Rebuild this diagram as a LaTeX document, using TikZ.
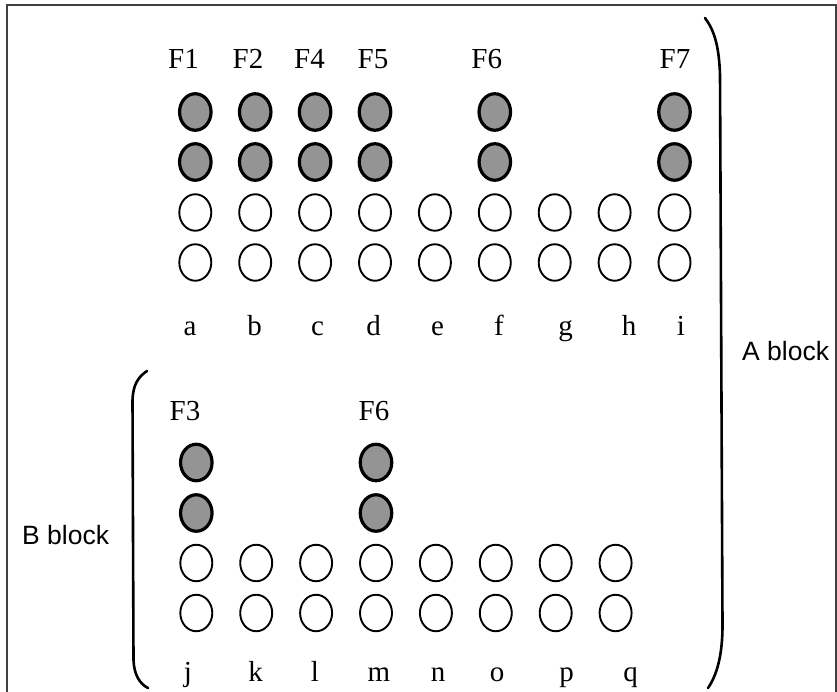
\documentclass[tikz,border=0pt]{standalone}
\usepackage{fontspec}
\setmainfont{Liberation Serif}
\newfontfamily\blockfont{Liberation Sans}
\usetikzlibrary{shapes.geometric}
\begin{document}
\begin{tikzpicture}[x=1pt,y=-1pt,
  opencirc/.style={ellipse, draw=black, line width=1.9pt, minimum width=32pt, minimum height=36.5pt, inner sep=0pt},
  fillcirc/.style={ellipse, draw=black, line width=3.2pt, fill=black!42, minimum width=31.5pt, minimum height=36.5pt, inner sep=0pt},
  lbl/.style={anchor=base, inner sep=0pt, font=\fontsize{29}{30}\selectfont},
  blk/.style={anchor=base west, inner sep=0pt, font=\blockfont\fontsize{26.5}{28}\selectfont},
  framestyle/.style={draw=black!75, line width=1.3pt},
  paren/.style={draw=black, line width=2.6pt, line cap=round}]
\useasboundingbox (0,0) rectangle (837,692);
% frame
\draw[framestyle] (7,692) -- (7,5) -- (836,5) -- (836,692);
% A block circles
\foreach \n [count=\k from 0] in {a,b,c,d,e,f,g,h,i} {
  \pgfmathsetmacro{\cx}{195.3+59.9*\k}
  \node[opencirc] (A\n3) at (\cx,212.5) {};
  \node[opencirc] (A\n4) at (\cx,262.5) {};
}
\foreach \n/\k in {a/0,b/1,c/2,d/3,f/5,i/8} {
  \pgfmathsetmacro{\cx}{195.3+59.9*\k}
  \node[fillcirc] (A\n1) at (\cx,112) {};
  \node[fillcirc] (A\n2) at (\cx,162) {};
}
% B block circles
\foreach \n [count=\k from 0] in {j,k,l,m,n,o,p,q} {
  \pgfmathsetmacro{\cx}{196.3+59.9*\k}
  \node[opencirc] (B\n3) at (\cx,563) {};
  \node[opencirc] (B\n4) at (\cx,613) {};
}
\foreach \n/\k in {j/0,m/3} {
  \pgfmathsetmacro{\cx}{196.3+59.9*\k}
  \node[fillcirc] (B\n1) at (\cx,462.5) {};
  \node[fillcirc] (B\n2) at (\cx,513) {};
}
% F labels
\foreach \t/\x in {F1/183.5,F2/248,F4/309.5,F5/373,F6/486.7,F7/675} {
  \node[lbl] (L\t) at (\x,68.3) {\t};
}
\node[lbl] (LF3) at (185,420) {F3};
\node[lbl] (LF6b) at (374,420) {F6};
% column letters
\foreach \t/\x in {a/190,b/254.7,c/317.5,d/373.7,e/437.5,f/499,g/565.7,h/629,i/681} {
  \node[lbl] (T\t) at (\x,335) {\t};
}
\foreach \t/\x in {j/188,k/255.5,l/315,m/379,n/438,o/497,p/566.5,q/630.5} {
  \node[lbl] (T\t) at (\x,681.5) {\t};
}
% brackets
\draw[paren] (705,18) .. controls (714,30) and (719,45) .. (720,75) -- (722.5,625) .. controls (722.5,655) and (717,675) .. (708,688);
\draw[paren] (147,371) .. controls (138,377) and (133,385) .. (132.5,400) -- (133.5,660) .. controls (134,675) and (140,684) .. (148,688);
% block labels
\node[blk] (Ablock) at (742,360) {A block};
\node[blk] (Bblock) at (22,544) {B block};
\end{tikzpicture}
\end{document}
